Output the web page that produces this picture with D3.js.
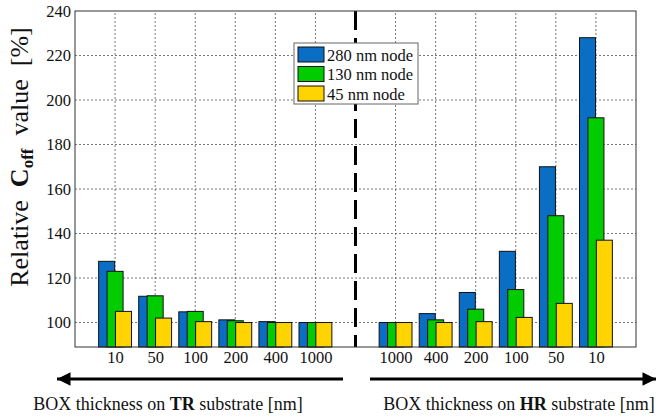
<!DOCTYPE html>
<html>
<head>
<meta charset="utf-8">
<script src="https://cdn.jsdelivr.net/npm/d3@7"></script>
<style>
  body { margin: 0; background: #fff; }
</style>
</head>
<body>
<div id="chart"></div>
<script>
// categories (BOX thickness, nm)
const trLabels = ["10", "50", "100", "200", "400", "1000"];
const hrLabels = ["1000", "400", "200", "100", "50", "10"];
const seriesNames = ["280 nm node", "130 nm node", "45 nm node"];
const seriesColors = ["#0a6ec4", "#00cc00", "#ffd400"];

// relative Coff values [%]
const tr280 = [127.5, 111.8, 104.8, 101.2, 100.4, 100];
const tr130 = [123, 112, 105, 100.8, 100, 100];
const tr45 = [105, 102, 100.4, 100, 100, 100];
const hr280 = [100, 104, 113.5, 132, 170, 228];
const hr130 = [100, 101.2, 106, 114.8, 148, 192];
const hr45 = [100, 100, 100.4, 102.3, 108.6, 137];

const yTicks = [100, 120, 140, 160, 180, 200, 220, 240];

const width = 657, height = 418;
const margin = { top: 11, right: 21, bottom: 71, left: 75 };
const serif = "Liberation Serif";

const svg = d3.select("#chart").append("svg")
  .attr("width", width).attr("height", height)
  .attr("font-family", serif);

// positions 1..6 = TR, 7 = divider, 8..13 = HR
const x = d3.scaleLinear().domain([0, 14]).range([margin.left, width - margin.right]);
const y = d3.scaleLinear().domain([89, 240]).range([height - margin.bottom, margin.top]);

const cats = trLabels.map((l, i) => ({ label: l, pos: i + 1, vals: [tr280[i], tr130[i], tr45[i]] }))
  .concat(hrLabels.map((l, i) => ({ label: l, pos: i + 8, vals: [hr280[i], hr130[i], hr45[i]] })));

// grid
const grid = svg.append("g").attr("stroke", "#555").attr("stroke-width", 0.8).attr("stroke-dasharray", "2,2");
grid.selectAll(".gy").data(yTicks.slice(0, -1)).join("line")
  .attr("x1", x(0)).attr("x2", x(14))
  .attr("y1", d => y(d)).attr("y2", d => y(d));
grid.selectAll(".gx").data(cats).join("line")
  .attr("x1", d => x(d.pos)).attr("x2", d => x(d.pos))
  .attr("y1", y(89)).attr("y2", y(240));

// bars
const barW = x(0.4) - x(0);
const offs = [-0.21, 0, 0.21];
cats.forEach(c => {
  c.vals.forEach((v, j) => {
    svg.append("rect")
      .attr("x", x(c.pos + offs[j]) - barW / 2)
      .attr("y", y(v))
      .attr("width", barW)
      .attr("height", y(89) - y(v))
      .attr("fill", seriesColors[j])
      .attr("stroke", "#111")
      .attr("stroke-width", 1);
  });
});

// divider
svg.append("line")
  .attr("x1", x(7)).attr("x2", x(7))
  .attr("y1", y(240)).attr("y2", y(89))
  .attr("stroke", "#000").attr("stroke-width", 3)
  .attr("stroke-dasharray", "19,8");

// frame
svg.append("rect")
  .attr("x", x(0)).attr("y", y(240))
  .attr("width", x(14) - x(0)).attr("height", y(89) - y(240))
  .attr("fill", "none").attr("stroke", "#333").attr("stroke-width", 1);

// y axis
const yAxis = svg.append("g")
  .attr("transform", `translate(${x(0)},0)`)
  .call(d3.axisLeft(y).tickValues(yTicks).tickSize(0).tickPadding(4))
  .attr("font-family", serif).attr("font-size", 16.5);
yAxis.select(".domain").remove();
yAxis.selectAll("text").attr("fill", "#111");

// x axis labels
const xAxis = svg.append("g")
  .attr("transform", `translate(0,${y(89)})`)
  .call(d3.axisBottom(x).tickValues(cats.map(d => d.pos))
    .tickFormat((d, i) => cats[i].label).tickSize(0).tickPadding(4))
  .attr("font-family", serif).attr("font-size", 16.5);
xAxis.select(".domain").remove();
xAxis.selectAll("text").attr("fill", "#111");

// y label
const yl = svg.append("text")
  .attr("transform", "translate(28,157) rotate(-90)")
  .attr("text-anchor", "middle")
  .style("white-space", "pre")
  .attr("font-size", 26).attr("fill", "#111");
yl.append("tspan").text("Relative  ");
yl.append("tspan").attr("font-weight", "bold").text("C");
yl.append("tspan").attr("font-weight", "bold").attr("font-size", 17).attr("dy", 5).text("off");
yl.append("tspan").attr("dy", -5).text("  value  [%]");

// arrows
const defs = svg.append("defs");
defs.append("marker").attr("id", "ah")
  .attr("viewBox", "0 0 10 10").attr("refX", 10).attr("refY", 5)
  .attr("markerWidth", 5).attr("markerHeight", 4.5).attr("markerUnits", "strokeWidth")
  .attr("orient", "auto")
  .append("path").attr("d", "M0,0L10,5L0,10Z").attr("fill", "#000");

svg.append("line").attr("x1", 343).attr("x2", 57).attr("y1", 379).attr("y2", 379)
  .attr("stroke", "#000").attr("stroke-width", 3).attr("marker-end", "url(#ah)");
svg.append("line").attr("x1", 370).attr("x2", 656).attr("y1", 379).attr("y2", 379)
  .attr("stroke", "#000").attr("stroke-width", 3).attr("marker-end", "url(#ah)");

function sideLabel(cx, abbr) {
  const t = svg.append("text").attr("x", cx).attr("y", 410)
    .attr("text-anchor", "middle").attr("font-size", 18).attr("fill", "#111");
  t.append("tspan").text("BOX thickness on ");
  t.append("tspan").attr("font-weight", "bold").text(abbr);
  t.append("tspan").text(" substrate [nm]");
}
sideLabel(168, "TR");
sideLabel(519, "HR");

// legend
const lg = svg.append("g").attr("transform", "translate(294,43)");
lg.append("rect").attr("width", 124).attr("height", 61)
  .attr("fill", "#fff").attr("stroke", "#666").attr("stroke-width", 1);
seriesNames.forEach((n, i) => {
  lg.append("rect").attr("x", 4).attr("y", 4 + i * 19.5)
    .attr("width", 26).attr("height", 15)
    .attr("fill", seriesColors[i]).attr("stroke", "#111");
  lg.append("text").attr("x", 33).attr("y", 12 + i * 19.5).attr("dy", "0.35em")
    .attr("font-size", 16.5).attr("fill", "#111").text(n);
});
</script>
</body>
</html>
